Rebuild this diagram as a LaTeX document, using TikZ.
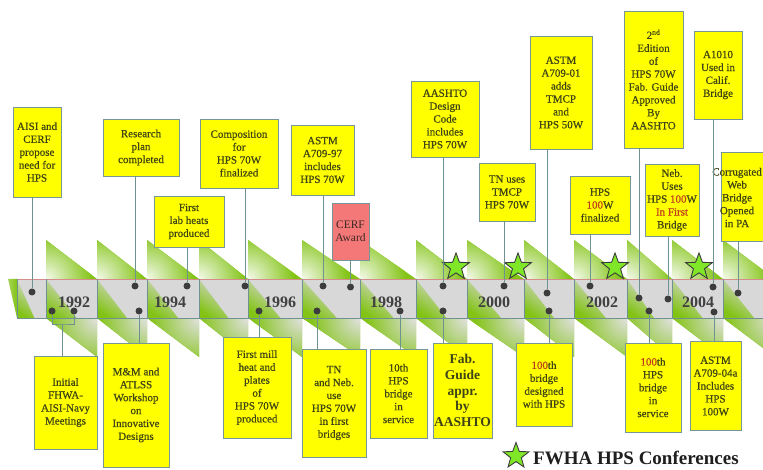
\documentclass[tikz,border=0pt]{standalone}
\usepackage{fontspec}
\setmainfont{Liberation Serif}
\newfontfamily\boxfont{Liberation Serif}[FakeBold=0.5]
\usetikzlibrary{shapes.geometric}
\definecolor{boxyellow}{RGB}{255,255,0}
\definecolor{boxline}{RGB}{120,150,150}
\definecolor{txtcol}{RGB}{62,68,22}
\definecolor{redtxt}{RGB}{190,60,30}
\definecolor{pinkbox}{RGB}{245,120,120}
\definecolor{pinktxt}{RGB}{60,40,35}
\definecolor{bandgray}{RGB}{216,216,216}
\definecolor{ribgreen}{RGB}{130,195,20}
\definecolor{ribgray}{RGB}{225,225,225}
\definecolor{dotcol}{RGB}{60,60,60}
\definecolor{yearcol}{RGB}{64,64,64}
\definecolor{connline}{RGB}{110,145,145}
\definecolor{bandtop}{RGB}{215,140,140}
\definecolor{stargreen}{RGB}{128,230,40}
\definecolor{stardraw}{RGB}{60,60,60}
\definecolor{legtxt}{RGB}{30,30,30}
\newcommand{\hlred}[1]{\textcolor{redtxt}{#1}}
\begin{document}
\begin{tikzpicture}[x=1pt,y=-1pt,
  evbox/.style={draw=boxline, line width=0.8pt, fill=boxyellow, inner sep=0pt, align=center, text=txtcol, font=\boxfont\fontsize{11}{12.9}\selectfont},
  pinkev/.style={draw=boxline, line width=0.8pt, fill=pinkbox, inner sep=0pt, align=center, text=pinktxt, font=\fontsize{11.5}{13.5}\selectfont},
  dotnode/.style={circle, fill=dotcol, inner sep=0pt, minimum size=7pt},
  conn/.style={draw=connline, line width=0.7pt},
  yr/.style={font=\bfseries\fontsize{16}{16}\selectfont, text=yearcol, inner sep=0pt},
  cstar/.style={star, star points=5, star point ratio=2.4, minimum size=28pt, inner sep=0pt, fill=stargreen, draw=stardraw, line width=0.9pt}
]
\useasboundingbox (0,0) rectangle (763,470);
\fill[white] (0,0) rectangle (763,470);

% ribbon triangles above and below the band
\foreach \a/\b in {46/97,97/147,147/199,199/248,248/302,302/360,360/416,416/467,467/524,524/574,574/627,627/672,672/723,723/775}{
  \fill[ribgreen] (\a,240) -- (\b,279) -- (\a,279) -- cycle;
  \begin{scope}
    \clip (\a,240) -- (\b,279) -- (\a,279) -- cycle;
    \shade[inner color=white!92!ribgreen, outer color=ribgreen] (\a,279) circle (46);
  \end{scope}
  \fill[ribgreen] (\a,318) -- (\b,318) -- (\b,357) -- cycle;
  \begin{scope}
    \clip (\a,318) -- (\b,318) -- (\b,357) -- cycle;
    \shade[inner color=ribgray, outer color=ribgreen] (\b,318) circle (50);
  \end{scope}
}
\shade[left color=ribgreen!70!white, right color=ribgreen] (8,279) -- (17,279) -- (17,318) -- cycle;

% band
\fill[bandgray] (17,279) rectangle (775,318);
\foreach \a/\b in {17/46,46/97,97/147,147/199,199/248,248/302,302/360,360/416,416/467,467/524,524/574,574/627,627/672,672/723,723/775}{
  \shade[top color=bandgray, bottom color=ribgreen, shading angle=-35] (\a,279) -- (\a,318) -- ({\a+0.6*(\b-\a)},318) -- cycle;
}
\draw[connline, line width=0.7pt] (17,318) -- (775,318);
\draw[bandtop, line width=0.7pt] (17,279) -- (775,279);
\foreach \x in {17,46,97,147,199,248,302,360,416,467,524,574,627,672,723}{
  \draw[connline, line width=0.7pt] (\x,279) -- (\x,318);
}

% years
\node[yr] (y1992) at (74,302) {1992};
\node[yr] (y1994) at (170,302) {1994};
\node[yr] (y1996) at (280,302) {1996};
\node[yr] (y1998) at (386,302) {1998};
\node[yr] (y2000) at (494,302) {2000};
\node[yr] (y2002) at (602,302) {2002};
\node[yr] (y2004) at (698,302) {2004};

% dots
\node[dotnode] (dA) at (32,292) {};
\node[dotnode] (dB1) at (52,311) {};
\node[dotnode] (dB2) at (74,311) {};
\node[dotnode] (dC) at (135,286) {};
\node[dotnode] (dD) at (187,286) {};
\node[dotnode] (dE) at (139,311) {};
\node[dotnode] (dF) at (245,286) {};
\node[dotnode] (dG) at (259,311) {};
\node[dotnode] (dH) at (323,286) {};
\node[dotnode] (dI) at (350.5,287) {};
\node[dotnode] (dJ) at (317,311) {};
\node[dotnode] (dK) at (400,311) {};
\node[dotnode] (dL) at (443,286) {};
\node[dotnode] (dM) at (443,311) {};
\node[dotnode] (dN) at (504,286) {};
\node[dotnode] (dO) at (547,293) {};
\node[dotnode] (dP) at (549,311) {};
\node[dotnode] (dQ) at (590,286) {};
\node[dotnode] (dR) at (639,298) {};
\node[dotnode] (dS) at (668,299) {};
\node[dotnode] (dT) at (649,311) {};
\node[dotnode] (dU) at (713,287) {};
\node[dotnode] (dV) at (714,312) {};
\node[dotnode] (dW) at (738,293) {};

% stars
\node[cstar] (s1) at (456,267) {};
\node[cstar] (s2) at (518,267) {};
\node[cstar] (s3) at (615,267) {};
\node[cstar] (s4) at (699,267) {};

% upper boxes
\node[evbox, minimum width=48pt, minimum height=90pt] (bAISI) at (37,152) {AISI and\\CERF\\propose\\need for\\HPS};
\node[evbox, minimum width=76pt, minimum height=57pt] (bRes) at (141,147.5) {Research\\plan\\completed};
\node[evbox, minimum width=70pt, minimum height=51pt] (bLab) at (189,221.5) {First\\lab heats\\produced};
\node[evbox, minimum width=78pt, minimum height=69pt] (bComp) at (239,153.5) {Composition\\for\\HPS 70W\\finalized};
\node[evbox, minimum width=63pt, minimum height=70pt] (bA97) at (322.5,160) {ASTM\\A709-97\\includes\\HPS 70W};
\node[pinkev, minimum width=37pt, minimum height=57pt] (bCERF) at (350.5,231.5) {CERF\\Award};
\node[evbox, minimum width=68pt, minimum height=76pt] (bAASHTO) at (445,119) {AASHTO\\Design\\Code\\includes\\HPS 70W};
\node[evbox, minimum width=56pt, minimum height=58pt] (bTNuses) at (507,192) {TN uses\\TMCP\\HPS 70W};
\node[evbox, minimum width=62pt, minimum height=113pt] (bA01) at (561,92.5) {ASTM\\A709-01\\adds\\TMCP\\and\\HPS 50W};
\node[evbox, minimum width=60pt, minimum height=58pt] (bH100) at (600,205) {HPS\\\hlred{100}W\\finalized};
\node[evbox, minimum width=59pt, minimum height=137pt] (b2nd) at (653.5,79.5) {2\textsuperscript{nd}\\Edition\\of\\HPS 70W\\Fab. Guide\\Approved\\By\\AASHTO};
\node[evbox, minimum width=54pt, minimum height=72pt] (bNeb) at (672,200) {Neb.\\Uses\\HPS \hlred{100}W\\\hlred{In First}\\Bridge};
\node[evbox, minimum width=48pt, minimum height=88pt] (bA1010) at (718,75) {A1010\\Used in\\Calif.\\Bridge};
\node[evbox, minimum width=54pt, minimum height=89pt] (bCorr) at (748,196.5) {};
\node[align=center, text=txtcol, font=\boxfont\fontsize{11}{12.9}\selectfont, inner sep=0pt] (tCorr) at (737,197.5) {Corrugated\\Web\\Bridge\\Opened\\in PA};

% lower boxes
\node[evbox, minimum width=63pt, minimum height=93pt] (bIni) at (65.5,402.5) {Initial\\FHWA-\\AISI-Navy\\Meetings};
\node[evbox, minimum width=66pt, minimum height=124pt] (bMM) at (136,405) {M\&M and\\ATLSS\\Workshop\\on\\Innovative\\Designs};
\node[evbox, minimum width=68pt, minimum height=101pt] (bMill) at (257,387.5) {First mill\\heat and\\plates\\of\\HPS 70W\\produced};
\node[evbox, minimum width=64pt, minimum height=108pt] (bTNNeb) at (334,403) {TN\\and Neb.\\use\\HPS 70W\\in first\\bridges};
\node[evbox, minimum width=57pt, minimum height=89pt] (b10th) at (398.5,393.5) {10th\\HPS\\bridge\\in\\service};
\node[evbox, minimum width=59pt, minimum height=95pt, font=\bfseries\fontsize{13.5}{15.6}\selectfont] (bFab) at (462.5,390.5) {Fab.\\Guide\\appr.\\by\\AASHTO};
\node[evbox, minimum width=56pt, minimum height=83pt] (b100b) at (544,384.5) {\hlred{100}th\\bridge\\designed\\with HPS};
\node[evbox, minimum width=56pt, minimum height=89pt] (b100s) at (653,387.5) {\hlred{100}th\\HPS\\bridge\\in\\service};
\node[evbox, minimum width=51pt, minimum height=89pt] (bA04) at (715.5,386) {ASTM\\A709-04a\\Includes\\HPS\\100W};

% connectors (upper)
\draw[conn] (dA) -- (dA |- bAISI.south);
\draw[conn] (dC) -- (dC |- bRes.south);
\draw[conn] (dD) -- (dD |- bLab.south);
\draw[conn] (dF) -- (dF |- bComp.south);
\draw[conn] (dH) -- (dH |- bA97.south);
\draw[conn] (dI) -- (dI |- bCERF.south);
\draw[conn] (dL) -- (dL |- bAASHTO.south);
\draw[conn] (dN) -- (dN |- bTNuses.south);
\draw[conn] (dO) -- (dO |- bA01.south);
\draw[conn] (dQ) -- (dQ |- bH100.south);
\draw[conn] (dR) -- (dR |- b2nd.south);
\draw[conn] (dS) -- (dS |- bNeb.south);
\draw[conn] (dU) -- (dU |- bA1010.south);
\draw[conn] (dW) -- (dW |- bCorr.south);
% connectors (lower)
\coordinate (brk) at (62,324);
\draw[conn] (dB1) |- (brk) -| (dB2);
\draw[conn] (brk) -- (brk |- bIni.north);
\draw[conn] (dE) -- (dE |- bMM.north);
\draw[conn] (dG) -- (dG |- bMill.north);
\draw[conn] (dJ) -- (dJ |- bTNNeb.north);
\draw[conn] (dK) -- (dK |- b10th.north);
\draw[conn] (dM) -- (dM |- bFab.north);
\draw[conn] (dP) -- (dP |- b100b.north);
\draw[conn] (dT) -- (dT |- b100s.north);
\draw[conn] (dV) -- (dV |- bA04.north);

% legend
\node[cstar, minimum size=27pt] (lstar) at (516,456) {};
\node[anchor=west, inner sep=0pt, font=\bfseries\fontsize{19}{19}\selectfont, text=legtxt] (ltxt) at (533,458) {FWHA HPS Conferences};
\end{tikzpicture}
\end{document}
